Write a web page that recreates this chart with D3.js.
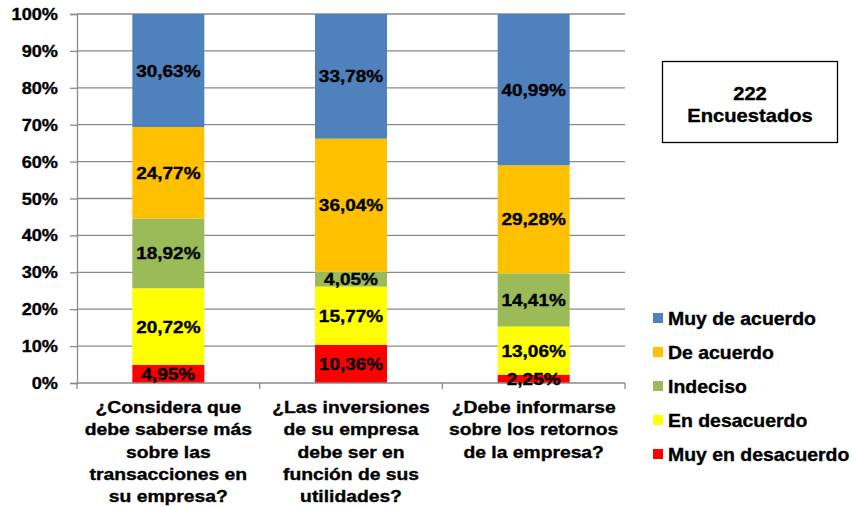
<!DOCTYPE html>
<html>
<head>
<meta charset="utf-8">
<script src="https://cdn.jsdelivr.net/npm/d3@7"></script>
<style>
  body { margin: 0; background: #fff; }
  text { font-family: "Liberation Sans", Arial, sans-serif; font-weight: bold; fill: #000; stroke: #000; stroke-width: 0.35px; }
</style>
</head>
<body>
<div id="chart"></div>
<script>
// data
var categories = [
  ["¿Considera que", "debe saberse más", "sobre las", "transacciones en", "su empresa?"],
  ["¿Las inversiones", "de su empresa", "debe ser en", "función de sus", "utilidades?"],
  ["¿Debe informarse", "sobre los retornos", "de la empresa?"]
];
var seriesNames = ["Muy en desacuerdo", "En desacuerdo", "Indeciso", "De acuerdo", "Muy de acuerdo"];
var muyEnDesacuerdo = [4.95, 10.36, 2.25];
var enDesacuerdo = [20.72, 15.77, 13.06];
var indeciso = [18.92, 4.05, 14.41];
var deAcuerdo = [24.77, 36.04, 29.28];
var muyDeAcuerdo = [30.63, 33.78, 40.99];
var yTicks = [0, 10, 20, 30, 40, 50, 60, 70, 80, 90, 100];
var colors = ["#FF0000", "#FFFF00", "#9BBB59", "#FFC000", "#4F81BD"];
var totalText = ["222", "Encuestados"];

var width = 853, height = 507;
var marginLeft = 77, plotRight = 625, marginTop = 14, plotBottom = 383;
var stretch = 1.15;

var svg = d3.select("#chart").append("svg")
  .attr("width", width)
  .attr("height", height);

var xScale = d3.scaleBand()
  .domain(d3.range(categories.length))
  .range([marginLeft, plotRight])
  .paddingInner(0.6)
  .paddingOuter(0.3);

var bandStep = (plotRight - marginLeft) / categories.length;

var yScale = d3.scaleLinear()
  .domain([0, 100])
  .range([plotBottom, marginTop]);

// stretched text helper (source chart text is wider than it is tall)
function addText(g, x, y, str, size, anchor, sx) {
  return g.append("text")
    .attr("transform", "translate(" + x + "," + y + ") scale(" + (sx || stretch) + ",1)")
    .attr("text-anchor", anchor || "middle")
    .style("font-size", size + "px")
    .text(str);
}

// gridlines
svg.append("g").selectAll("line")
  .data(yTicks.slice(1))
  .enter().append("line")
  .attr("x1", marginLeft).attr("x2", plotRight)
  .attr("y1", function(d){ return yScale(d); })
  .attr("y2", function(d){ return yScale(d); })
  .attr("stroke", "#8a8a8a")
  .attr("stroke-width", 1.3);

// y axis
var yAxis = d3.axisLeft(yScale).tickValues(yTicks).tickSize(7).tickFormat("");
var gy = svg.append("g")
  .attr("transform", "translate(" + marginLeft + ",0)")
  .call(yAxis);
gy.selectAll("path, line").attr("stroke", "#8a8a8a").attr("stroke-width", 1.3);
yTicks.forEach(function(t){
  addText(svg, 58, yScale(t) + 6, t + "%", 16.5, "end", 1.1);
});

// stacked bars
var rows = categories.map(function(c, i){
  return { i: i, "Muy en desacuerdo": muyEnDesacuerdo[i], "En desacuerdo": enDesacuerdo[i],
           "Indeciso": indeciso[i], "De acuerdo": deAcuerdo[i], "Muy de acuerdo": muyDeAcuerdo[i] };
});
var stack = d3.stack().keys(seriesNames);
var layers = stack(rows);

var barW = 72;
var layerG = svg.append("g").selectAll("g")
  .data(layers)
  .enter().append("g")
  .attr("fill", function(d, k){ return colors[k]; });

layerG.selectAll("rect")
  .data(function(d){ return d; })
  .enter().append("rect")
  .attr("x", function(d, i){ return xScale(i) + xScale.bandwidth() / 2 - barW / 2; })
  .attr("y", function(d){ return yScale(Math.min(d[1], 100)); })
  .attr("width", barW)
  .attr("height", function(d){ return yScale(d[0]) - yScale(Math.min(d[1], 100)); });

// x axis line + ticks at category boundaries
svg.append("line")
  .attr("x1", marginLeft).attr("x2", plotRight)
  .attr("y1", plotBottom).attr("y2", plotBottom)
  .attr("stroke", "#8a8a8a").attr("stroke-width", 1.3);
d3.range(categories.length + 1).forEach(function(k){
  var x = marginLeft + k * bandStep;
  svg.append("line")
    .attr("x1", x).attr("x2", x)
    .attr("y1", plotBottom).attr("y2", plotBottom + 6)
    .attr("stroke", "#8a8a8a").attr("stroke-width", 1.3);
});

// value labels
var labelG = svg.append("g");
layers.forEach(function(layer){
  layer.forEach(function(d, i){
    var v = d.data[layer.key];
    var cy = (yScale(d[0]) + yScale(Math.min(d[1], 100))) / 2;
    addText(labelG, xScale(i) + xScale.bandwidth() / 2, cy + 6, v.toFixed(2).replace(".", ",") + "%", 16.5);
  });
});

// category labels
categories.forEach(function(lines, i){
  var cx = xScale(i) + xScale.bandwidth() / 2;
  lines.forEach(function(line, j){
    addText(svg, cx, 413 + j * 22.3, line, 16.5, "middle", 1.17);
  });
});

// legend (top to bottom: Muy de acuerdo ... Muy en desacuerdo)
var legend = svg.append("g");
seriesNames.slice().reverse().forEach(function(name, j){
  var k = seriesNames.indexOf(name);
  var cy = 318 + j * 34;
  legend.append("rect")
    .attr("x", 653).attr("y", cy - 5)
    .attr("width", 10).attr("height", 10)
    .attr("fill", colors[k]);
  addText(legend, 668, cy + 6.5, name, 18, "start", 1.08);
});

// respondents box
svg.append("rect")
  .attr("x", 662.5).attr("y", 61.5)
  .attr("width", 175).attr("height", 81)
  .attr("fill", "#fff")
  .attr("stroke", "#000")
  .attr("stroke-width", 1.3);
addText(svg, 750, 99.5, totalText[0], 18, "middle", 1.12);
addText(svg, 750, 121.5, totalText[1], 18, "middle", 1.12);
</script>
</body>
</html>
